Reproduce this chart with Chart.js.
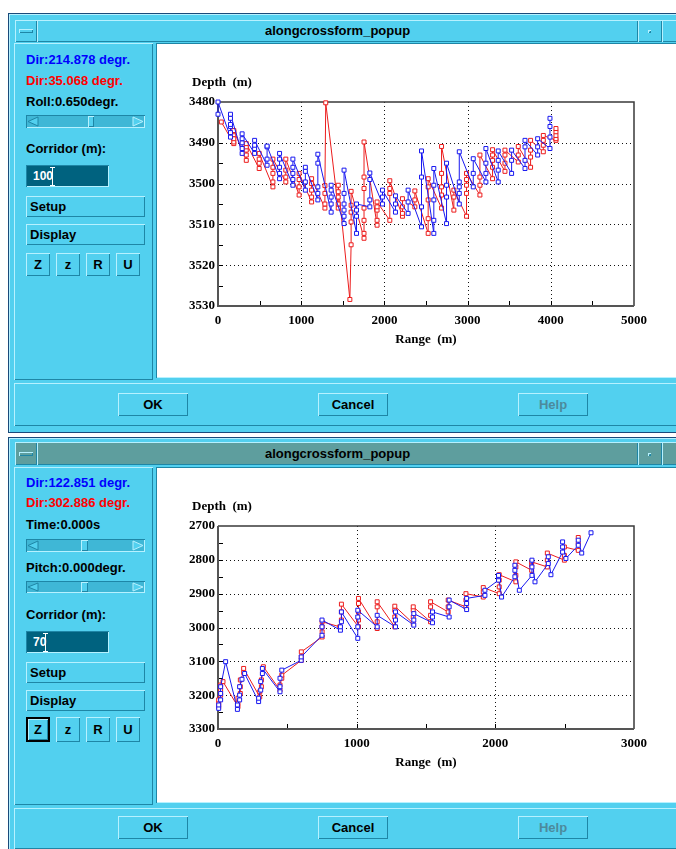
<!DOCTYPE html>
<html>
<head>
<meta charset="utf-8">
<title>alongcrossform_popup</title>
<script src="https://cdn.jsdelivr.net/npm/chart.js@4.4.1/dist/chart.umd.min.js"></script>
<style>
  body { margin: 0; width: 676px; height: 849px; overflow: hidden; position: relative; background: #fff;
         font: bold 13px "Liberation Sans", Arial, sans-serif; color: #000; }
  .box { position: absolute; box-sizing: border-box; }
  .win { background: #52d0ef; box-shadow: inset 0 0 0 1px #1a4a7a, inset 2px 2px 0 #b6f1ff; }
  .up { background: #52d0ef; box-shadow: inset 1px 1px 0 #b6f1ff, inset -1px -1px 0 #1e86a6; }
  .down { box-shadow: inset 1px 1px 0 #1e86a6, inset -1px -1px 0 #b6f1ff; }
  .lbl { height: 14px; line-height: 14px; white-space: nowrap; }
  .btn { text-align: center; line-height: 23px; }
  .wide { text-align: left; padding-left: 4px; line-height: 21px; }
  .field { background: #00627f; color: #fff; padding-left: 7px; line-height: 22px; font-size: 12px; }
  .plot { background: #fff; }
  .title { text-align: center; white-space: nowrap; }
  .help { color: #4c8a9c; }
  .focus { box-shadow: inset 0 0 0 2px #000, inset 3px 3px 0 #b6f1ff, inset -3px -3px 0 #1e86a6; }
  canvas { position: absolute; }
</style>
</head>
<body>
<script>
// upper line: range (m) of each gather and the depths (m) picked at it
const blueRange1 = [0, 150, 290, 440, 590, 740, 900, 1050, 1200, 1360, 1515, 1665, 1825, 1977, 2133,
  2285, 2446, 2594, 2747, 2900, 3068, 3220, 3368, 3529, 3690, 3842, 3990];
const blueDepth1 = [
  [3483, 3480], [3488.6, 3487.5, 3486, 3485.5, 3484, 3483], [3492.6, 3491.4, 3490, 3489, 3487.8],
  [3492.6, 3491.4, 3490.6, 3489.4], [3495.5, 3494, 3491, 3490.8], [3498.8, 3497.5, 3496, 3494, 3492.6],
  [3500.4, 3499, 3497.5, 3496, 3494], [3501.6, 3499.6, 3497, 3496], [3504, 3502.4, 3500.8, 3495, 3492.8],
  [3507, 3505, 3503.3, 3501.6, 3500.4], [3509.8, 3508, 3506.5, 3505, 3502.4, 3496.7], [3512.2, 3508, 3506.5, 3505],
  [3505.7, 3504, 3499, 3497.4], [3505, 3503.3, 3501.6], [3507, 3505, 3503], [3507.3, 3504.5, 3501.6],
  [3510.6, 3505.7, 3498.4, 3492], [3512.2, 3509, 3504, 3500.4, 3496.3], [3509.8, 3503.3, 3500.4, 3495],
  [3505, 3502.4, 3500.8, 3499.6, 3492.2], [3500.8, 3497.5, 3493.9], [3499.6, 3497.5, 3495, 3491.4],
  [3499.6, 3496.7, 3494.3, 3492], [3497.5, 3494.3, 3491.8], [3496.3, 3494.3, 3491, 3489.4],
  [3493, 3491, 3489], [3491.4, 3488.6, 3486, 3484]
];
const redRange1 = [40, 190, 340, 495, 660, 815, 975, 1125, 1285, 1295, 1445, 1585, 1600, 1755, 1912, 2065,
  2217, 2366, 2526, 2687, 2835, 2987, 3148, 3300, 3449, 3609, 3757, 3910, 4062];
const redDepth1 = [
  [3484.9], [3490.2, 3489.8, 3489, 3488, 3487.3, 3487], [3494.3, 3493, 3491.8, 3491, 3490.2],
  [3496.3, 3495, 3494, 3492.6], [3500.8, 3499.6, 3497.5, 3496, 3494], [3499.6, 3498.4, 3496.7, 3494],
  [3502.8, 3500.8, 3499, 3497.5], [3504.5, 3503.3, 3501.6, 3500, 3498.8], [3506, 3505, 3502.4, 3500.5],
  [3480.2], [3506, 3505, 3503.3, 3502, 3500.4], [3528.4], [3515, 3509.4, 3507, 3505.3, 3501.9],
  [3513.4, 3512.2, 3509, 3506, 3501.2, 3498.4, 3489.8], [3510.2, 3509, 3506.5, 3505.7, 3504.5],
  [3509, 3502.4, 3501.2, 3499.3], [3508, 3507.3, 3505.7, 3503.7], [3505.7, 3504, 3501.8],
  [3512.2, 3508.6, 3504, 3500.8, 3498.8], [3506, 3502.8, 3500.8, 3497.5, 3490.9], [3506.5, 3503.3, 3501.6],
  [3508, 3502.4, 3500.4, 3499, 3497.5], [3502.8, 3500.4, 3498.4, 3493], [3498.8, 3496, 3494.3, 3493, 3491.7],
  [3497, 3495, 3493, 3491.8], [3494.7, 3493, 3490.9], [3496, 3493.5, 3491.8, 3489.4],
  [3492.2, 3490.6, 3489.4, 3488.2], [3489.4, 3489, 3488.2, 3487.3, 3486.5]
];
const rangeTicks1 = [0, 1000, 2000, 3000, 4000, 5000];
const depthTicks1 = [3480, 3490, 3500, 3510, 3520, 3530];

// lower line
const blueRange2 = [5, 19, 55, 140, 156, 173, 192, 293, 308, 320, 447, 460, 600, 750, 883, 890, 1008, 1148,
  1280, 1412, 1547, 1667, 1793, 1925, 2023, 2045, 2141, 2173, 2264, 2286, 2382, 2401, 2485, 2509, 2598, 2623, 2690];
const blueDepth2 = [
  [3239, 3229], [3214, 3195, 3175], [3101], [3242, 3229], [3214, 3200, 3175], [3153], [3136],
  [3219, 3209], [3185, 3160], [3136, 3121], [3190, 3175, 3150], [3126], [3097, 3087], [3023, 2998, 2978],
  [3008, 2998], [2983, 2954], [3032, 2998, 2969, 2949], [2998, 2964], [2998, 2978, 2954], [2993, 2978, 2959],
  [2986, 2969, 2954], [2969, 2939, 2919], [2947, 2929, 2914], [2905, 2890], [2860, 2850, 2846], [2910],
  [2850, 2831, 2816], [2890], [2846, 2821, 2801], [2865], [2811, 2791], [2844], [2777, 2762, 2747],
  [2796], [2757, 2742], [2780], [2720]
];
const redRange2 = [5, 19, 36, 144, 161, 185, 301, 313, 327, 447, 460, 601, 751, 878, 890, 1013, 1148, 1275,
  1408, 1533, 1660, 1788, 1913, 2028, 2148, 2262, 2375, 2498, 2598];
const redDepth2 = [
  [3234, 3224, 3214], [3200, 3185, 3170], [3160], [3234, 3224, 3209], [3195, 3175, 3155], [3133, 3121],
  [3205, 3190], [3175, 3155], [3116], [3185, 3170], [3150, 3141], [3097, 3087, 3072], [3028, 3013, 2998, 2983],
  [2998], [2978, 2954, 2931], [2998, 2978, 2954, 2929, 2914], [3003, 2983, 2939, 2924], [2998, 2969, 2949, 2937],
  [2988, 2969, 2949, 2939], [2983, 2964, 2939, 2924], [2954, 2939, 2919], [2939, 2919, 2900], [2910, 2895, 2882],
  [2900, 2880, 2860, 2844], [2865, 2846, 2821, 2806], [2831, 2816, 2806], [2821, 2801, 2780],
  [2801, 2787, 2762], [2772, 2752, 2734]
];
const rangeTicks2 = [0, 1000, 2000, 3000];
const depthTicks2 = [2700, 2800, 2900, 3000, 3100, 3200, 3300];

const CYAN = '#52d0ef';

function box(cls, x, y, w, h, text) {
  const d = document.createElement('div');
  d.className = 'box ' + cls;
  d.style.left = x + 'px';
  d.style.top = y + 'px';
  d.style.width = w + 'px';
  d.style.height = h + 'px';
  if (text) d.textContent = text;
  document.body.appendChild(d);
  return d;
}

function scrollBar(y, h, thumb, tw) {
  const s = box('down', 26, y, 119, h);
  s.style.background = '#3fb7d6';
  const m = h / 2;
  s.innerHTML = `<svg width="119" height="${h}" style="position:absolute;left:0;top:0">
    <polygon points="2,${m} 12,2 12,${h - 2}" fill="${CYAN}" stroke="#1e86a6"/>
    <polygon points="117,${m} 107,2 107,${h - 2}" fill="${CYAN}" stroke="#b6f1ff"/></svg>`;
  box('up', 26 + thumb, y + 1, tw, h - 2);
}

function buildWindow(top, win) {
  box('win', 8, top, 700, win.height);
  const bar = win.active ? CYAN : '#5e9e9e';
  [[15, 22], [37, 601], [638, 24], [662, 40]].forEach(([x, w]) => {
    box('up', x, top + win.titleY, w, win.titleH).style.background = bar;
  });
  const t = box('title', 37, top + win.titleY, 601, win.titleH, 'alongcrossform_popup');
  t.style.lineHeight = win.titleH + 'px';
  box('up', 19, top + win.titleY + win.titleH / 2 - 2, 14, 4).style.background = bar;
  box('up', 648, top + win.titleY + win.titleH / 2 - 1, 3, 3).style.background = bar;

  box('up', 14, top + 30, 139, win.panelH);
  box('down plot', 156, top + 30, 530, win.plotH);
  box('up', 14, top + win.barY, 700, win.barH);
  ['OK', 'Cancel', 'Help'].forEach((label, i) => {
    const b = box('up btn', 118 + 200 * i, top + win.btnY, 70, 23, label);
    if (label === 'Help') b.classList.add('help');
  });

  win.widgets.forEach(w => {
    const y = top + w.y;
    if (w.type === 'label') {
      box('lbl', 26, y, 125, 14, w.text).style.color = w.color || '#000';
    } else if (w.type === 'scroll') {
      scrollBar(y, w.h, w.thumb, w.tw);
    } else if (w.type === 'field') {
      const f = box('down field', 26, y, 83, 22);
      f.innerHTML = w.text + '<svg width="5" height="19" style="vertical-align:middle;margin-left:-3px">' +
        '<path d="M0 0.5h5M0 18.5h5M2.5 0v19" stroke="#fff"/></svg>';
    } else if (w.type === 'button') {
      box('up wide', 26, y, 119, 21, w.text);
    } else if (w.type === 'zoom') {
      ['Z', 'z', 'R', 'U'].forEach((k, i) => {
        const b = box('up btn', 26 + 30 * i, y, 24, w.h, k);
        b.style.lineHeight = w.h + 'px';
        if (w.focus && i === 0) b.classList.add('focus');
      });
    }
  });

  const c = document.createElement('canvas');
  c.id = win.canvas;
  c.width = 519;
  c.height = 333;
  c.style.left = '157px';
  c.style.top = (top + 31) + 'px';
  document.body.appendChild(c);
}

buildWindow(13, {
  active: true, height: 420, titleY: 7, titleH: 22, panelH: 337, plotH: 335,
  barY: 370, barH: 43, btnY: 380, canvas: 'chart1',
  widgets: [
    { type: 'label', y: 40, text: 'Dir:214.878 degr.', color: '#0000ff' },
    { type: 'label', y: 61, text: 'Dir:35.068 degr.', color: '#ff0000' },
    { type: 'label', y: 82, text: 'Roll:0.650degr.' },
    { type: 'scroll', y: 102, h: 13, thumb: 62, tw: 6 },
    { type: 'label', y: 129, text: 'Corridor (m):' },
    { type: 'field', y: 152, text: '100' },
    { type: 'button', y: 183, text: 'Setup' },
    { type: 'button', y: 211, text: 'Display' },
    { type: 'zoom', y: 240, h: 23 }
  ]
});

buildWindow(437, {
  active: false, height: 420, titleY: 5, titleH: 23, panelH: 338, plotH: 336,
  barY: 371, barH: 41, btnY: 379, canvas: 'chart2',
  widgets: [
    { type: 'label', y: 39, text: 'Dir:122.851 degr.', color: '#0000ff' },
    { type: 'label', y: 59, text: 'Dir:302.886 degr.', color: '#ff0000' },
    { type: 'label', y: 81, text: 'Time:0.000s' },
    { type: 'scroll', y: 102, h: 13, thumb: 55, tw: 7 },
    { type: 'label', y: 124, text: 'Pitch:0.000degr.' },
    { type: 'scroll', y: 144, h: 12, thumb: 55, tw: 7 },
    { type: 'label', y: 171, text: 'Corridor (m):' },
    { type: 'field', y: 194, text: '70' },
    { type: 'button', y: 225, text: 'Setup' },
    { type: 'button', y: 253, text: 'Display' },
    { type: 'zoom', y: 280, h: 25, focus: true }
  ]
});

const AXIS_FONT = { family: 'Liberation Serif', size: 13, weight: 'bold' };

// dotted grid, inward tick marks, plot frame and the two axis titles
const framePlugin = {
  id: 'frame',
  beforeDatasetsDraw(chart, args, opts) {
    const { ctx, chartArea: a, scales: { x, y } } = chart;
    ctx.save();
    ctx.strokeStyle = '#111';
    ctx.lineWidth = 1;
    ctx.setLineDash([1, 3]);
    x.ticks.forEach(t => {
      if (t.value <= x.min || t.value >= x.max) return;
      const px = Math.round(x.getPixelForValue(t.value)) + 0.5;
      ctx.beginPath(); ctx.moveTo(px, a.top); ctx.lineTo(px, a.bottom); ctx.stroke();
    });
    y.ticks.forEach(t => {
      if (t.value <= y.min || t.value >= y.max) return;
      const py = Math.round(y.getPixelForValue(t.value)) + 0.5;
      ctx.beginPath(); ctx.moveTo(a.left, py); ctx.lineTo(a.right, py); ctx.stroke();
    });
    ctx.setLineDash([]);
    ctx.strokeStyle = '#000';
    for (let v = x.min + opts.xMinor; v < x.max; v += opts.xMinor) {
      const px = Math.round(x.getPixelForValue(v)) + 0.5;
      ctx.beginPath(); ctx.moveTo(px, a.bottom); ctx.lineTo(px, a.bottom - 5); ctx.stroke();
    }
    for (let v = y.min + opts.yMinor; v < y.max; v += opts.yMinor) {
      const py = Math.round(y.getPixelForValue(v)) + 0.5;
      ctx.beginPath(); ctx.moveTo(a.left, py); ctx.lineTo(a.left + 5, py); ctx.stroke();
    }
    ctx.strokeStyle = '#3a3a3a';
    ctx.lineWidth = 1.5;
    ctx.beginPath();
    ctx.moveTo(a.left, a.top); ctx.lineTo(a.right, a.top); ctx.lineTo(a.right, a.bottom);
    ctx.stroke();
    ctx.strokeStyle = '#555';
    ctx.lineWidth = 2;
    ctx.beginPath();
    ctx.moveTo(a.left, a.top); ctx.lineTo(a.left, a.bottom); ctx.lineTo(a.right, a.bottom);
    ctx.stroke();
    ctx.restore();
  },
  afterDraw(chart) {
    const { ctx, chartArea: a } = chart;
    ctx.save();
    ctx.font = 'bold 13px "Liberation Serif"';
    ctx.fillStyle = '#000';
    ctx.textBaseline = 'middle';
    ctx.textAlign = 'left';
    ctx.fillText('Depth  (m)', a.left - 26, a.top - 19);
    ctx.textAlign = 'center';
    ctx.fillText('Range  (m)', (a.left + a.right) / 2, a.bottom + 34);
    ctx.restore();
  }
};

function series(ranges, depths, color) {
  const pts = [];
  ranges.forEach((r, i) => depths[i].forEach(d => pts.push({ x: r, y: d })));
  return {
    data: pts, showLine: true, borderColor: color, borderWidth: 1,
    pointStyle: 'rect', pointRadius: 2.8, pointBorderWidth: 1,
    pointBorderColor: color, pointBackgroundColor: '#fff', clip: false
  };
}

function depthChart(id, blue, red, xTicks, yTicks, xMinor, yMinor, areaBottom) {
  const fixTicks = list => s => { s.ticks = list.map(v => ({ value: v })); };
  return new Chart(document.getElementById(id), {
    type: 'scatter',
    data: { datasets: [series(blue[0], blue[1], '#1818f0'), series(red[0], red[1], '#ec1c1c')] },
    options: {
      responsive: false,
      animation: false,
      devicePixelRatio: 1,
      layout: { padding: { top: 58, right: 42, left: 0, bottom: 0 } },
      scales: {
        x: {
          type: 'linear', min: xTicks[0], max: xTicks[xTicks.length - 1],
          afterBuildTicks: fixTicks(xTicks),
          afterFit: s => { s.height = 333 - areaBottom; },
          grid: { display: false, drawTicks: false, tickLength: 0 },
          border: { display: false },
          ticks: { padding: 7, font: AXIS_FONT, color: '#000', maxRotation: 0, callback: v => String(v) }
        },
        y: {
          type: 'linear', reverse: true, min: yTicks[0], max: yTicks[yTicks.length - 1],
          afterBuildTicks: fixTicks(yTicks),
          afterFit: s => { s.width = 61; },
          grid: { display: false, drawTicks: false, tickLength: 0 },
          border: { display: false },
          ticks: { padding: 3, font: AXIS_FONT, color: '#000', callback: v => String(v) }
        }
      },
      plugins: {
        legend: { display: false },
        tooltip: { enabled: false },
        frame: { xMinor, yMinor }
      }
    },
    plugins: [framePlugin]
  });
}

depthChart('chart1', [blueRange1, blueDepth1], [redRange1, redDepth1], rangeTicks1, depthTicks1, 500, 5, 262);
depthChart('chart2', [blueRange2, blueDepth2], [redRange2, redDepth2], rangeTicks2, depthTicks2, 500, 50, 261);
</script>
</body>
</html>
